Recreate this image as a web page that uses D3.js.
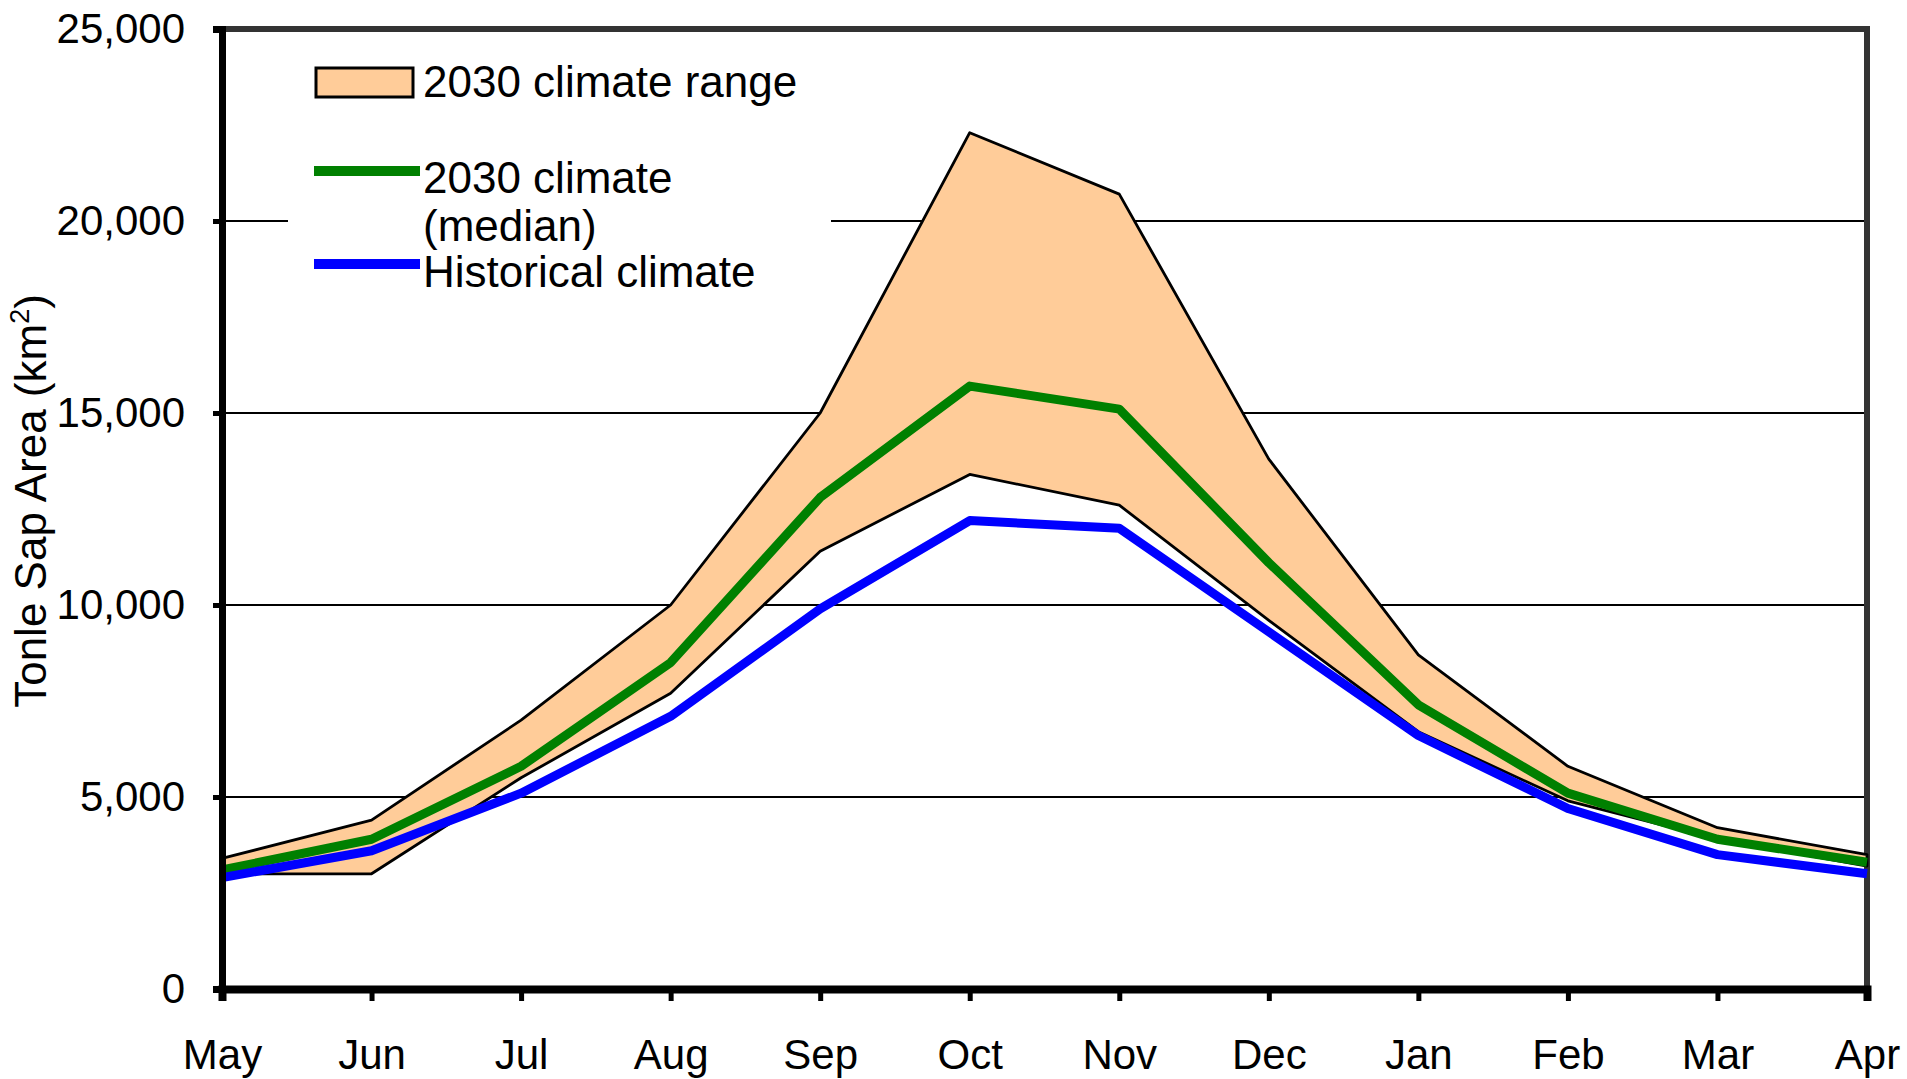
<!DOCTYPE html>
<html>
<head>
<meta charset="utf-8">
<script src="https://cdn.jsdelivr.net/npm/d3@7"></script>
<style>
  html, body { margin: 0; padding: 0; background: #fff; }
  svg { display: block; }
  text { font-family: "Liberation Sans", Arial, sans-serif; fill: #000; }
</style>
</head>
<body>
<svg id="chart" width="1907" height="1079"></svg>
<script>
const months = ["May","Jun","Jul","Aug","Sep","Oct","Nov","Dec","Jan","Feb","Mar","Apr"];
const rangeUpper = [3400, 4400, 7000, 10000, 15000, 22300, 20700, 13800, 8700, 5800, 4200, 3500];
const rangeLower = [3000, 3000, 5500, 7700, 11400, 13400, 12600, 9600, 6700, 4900, 3900, 3200];
const median2030 = [3100, 3900, 5800, 8500, 12800, 15700, 15100, 11100, 7400, 5100, 3900, 3300];
const historical = [2900, 3600, 5100, 7100, 9900, 12200, 12000, 9300, 6600, 4700, 3500, 3000];
const yTicks = [0, 5000, 10000, 15000, 20000, 25000];
const gridValues = [5000, 10000, 15000, 20000];
const legendLabels = ["2030 climate range", "2030 climate", "(median)", "Historical climate"];

const svg = d3.select("#chart");
const pLeft = 222, pRight = 1867, pTop = 29, pBottom = 989;

const x = d3.scalePoint().domain(months).range([pLeft, pRight]);
const y = d3.scaleLinear().domain([0, 25000]).range([pBottom, pTop]);

// gridlines
svg.append("g").selectAll("line").data(gridValues).join("line")
  .attr("x1", pLeft).attr("x2", pRight)
  .attr("y1", d => y(d)).attr("y2", d => y(d))
  .attr("stroke", "#000").attr("stroke-width", 2);

// legend background (white, no border) hiding gridline
svg.append("rect").attr("x", 288).attr("y", 45).attr("width", 543).attr("height", 255).attr("fill", "#fff");

// frame top & right
svg.append("line").attr("x1", pLeft).attr("x2", pRight + 3).attr("y1", y(25000)).attr("y2", y(25000))
  .attr("stroke", "#333").attr("stroke-width", 6);
svg.append("line").attr("x1", pRight).attr("x2", pRight).attr("y1", y(25000)).attr("y2", pBottom)
  .attr("stroke", "#333").attr("stroke-width", 6);

// range area
const rows = months.map((m, i) => ({m, hi: rangeUpper[i], lo: rangeLower[i], med: median2030[i], hist: historical[i]}));
const area = d3.area().x(d => x(d.m)).y0(d => y(d.lo)).y1(d => y(d.hi));
svg.append("path").datum(rows).attr("d", area)
  .attr("fill", "#FFCC99").attr("stroke", "#000").attr("stroke-width", 2.8).attr("stroke-linejoin", "round");

const line = key => d3.line().x(d => x(d.m)).y(d => y(d[key]));
svg.append("path").datum(rows).attr("d", line("med"))
  .attr("fill", "none").attr("stroke", "#008000").attr("stroke-width", 9).attr("stroke-linejoin", "round");
svg.append("path").datum(rows).attr("d", line("hist"))
  .attr("fill", "none").attr("stroke", "#0000FF").attr("stroke-width", 9).attr("stroke-linejoin", "round");

// y axis
const yAxis = svg.append("g").attr("transform", `translate(${pLeft},0)`)
  .call(d3.axisLeft(y).tickValues(yTicks).tickFormat(d3.format(",")).tickSize(9).tickPadding(28));
yAxis.select(".domain").attr("stroke", "#000").attr("stroke-width", 7);
yAxis.selectAll(".tick line").attr("stroke", "#000").attr("stroke-width", 5);
yAxis.selectAll(".tick text").attr("font-size", 42).attr("font-family", "Liberation Sans, Arial, sans-serif").attr("fill", "#000");

// x axis
const xAxis = svg.append("g").attr("transform", `translate(0,${pBottom})`)
  .call(d3.axisBottom(x).tickSize(12).tickPadding(38));
xAxis.select(".domain").attr("stroke", "#000").attr("stroke-width", 8);
xAxis.selectAll(".tick line").attr("stroke", "#000").attr("stroke-width", 5);
xAxis.selectAll(".tick text").attr("font-size", 42).attr("font-family", "Liberation Sans, Arial, sans-serif").attr("fill", "#000");

// y title
const yt = svg.append("text").attr("transform", "translate(46,501) rotate(-90)")
  .attr("text-anchor", "middle").attr("font-size", 44);
yt.append("tspan").text("Tonle Sap Area (km");
yt.append("tspan").attr("font-size", 27).attr("dy", -17).text("2");
yt.append("tspan").attr("dy", 17).text(")");

// legend
svg.append("rect").attr("x", 316).attr("y", 68).attr("width", 97).attr("height", 29)
  .attr("fill", "#FFCC99").attr("stroke", "#000").attr("stroke-width", 3);
svg.append("line").attr("x1", 314).attr("x2", 420).attr("y1", 171).attr("y2", 171)
  .attr("stroke", "#008000").attr("stroke-width", 10);
svg.append("line").attr("x1", 314).attr("x2", 420).attr("y1", 264).attr("y2", 264)
  .attr("stroke", "#0000FF").attr("stroke-width", 10);
const legendY = [97, 193, 241, 287];
svg.append("g").selectAll("text").data(legendLabels).join("text")
  .attr("x", 423).attr("y", (d, i) => legendY[i]).attr("font-size", 44).text(d => d);
</script>
</body>
</html>
